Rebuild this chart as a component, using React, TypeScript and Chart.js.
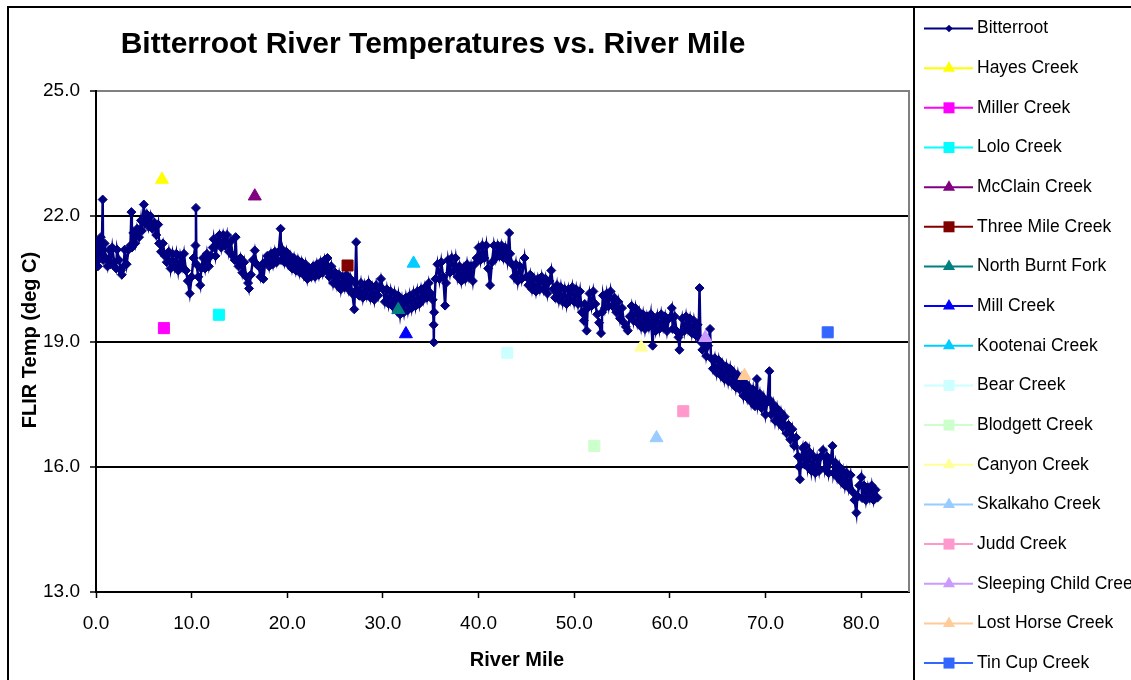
import React, { useEffect, useRef } from 'react';
import { Chart, registerables } from 'chart.js';

Chart.register(...registerables);

const FONT = '"Liberation Sans", Arial, sans-serif';

const chartTitle = 'Bitterroot River Temperatures vs. River Mile';
const xAxisTitle = 'River Mile';
const yAxisTitle = 'FLIR Temp (deg C)';

const xMin = 0;
const xMax = 85;
const xStep = 10;
const yMin = 13;
const yMax = 25;
const yStep = 3;

// Bitterroot main stem: [river mile, FLIR temp]
const bitterroot: [number, number][] = [
  [0.0, 20.9], [0.1, 21.3], [0.2, 20.8], [0.3, 21.4], [0.4, 21.0], [0.5, 21.5], [0.6, 21.1], [0.7, 22.4], [0.75, 20.95], [0.9, 21.35],
  [1.0, 21.0], [1.2, 20.8], [1.4, 21.2], [1.5, 20.85], [1.7, 21.25], [1.9, 20.9], [2.1, 20.75], [2.2, 21.2], [2.4, 20.95], [2.6, 20.7],
  [2.7, 20.6], [2.9, 20.8], [3.0, 21.2], [3.2, 20.85], [3.4, 21.2], [3.6, 21.3], [3.7, 22.1], [3.75, 21.25], [3.9, 21.6], [4.1, 21.35],
  [4.3, 21.7], [4.5, 21.5], [4.7, 21.9], [4.8, 21.65], [5.0, 22.28], [5.1, 21.85], [5.3, 22.05], [5.5, 21.75], [5.7, 22.0], [5.9, 21.7],
  [6.1, 21.85], [6.3, 21.55], [6.5, 21.8], [6.6, 21.35], [6.8, 21.15], [7.0, 21.35], [7.2, 21.05], [7.4, 20.9], [7.6, 21.15], [7.8, 20.75],
  [8.0, 21.1], [8.2, 20.8], [8.4, 21.1], [8.6, 20.7], [8.8, 21.05], [9.0, 20.8], [9.2, 21.1], [9.4, 20.7], [9.6, 20.45], [9.8, 20.15],
  [10.0, 20.55], [10.2, 21.0], [10.4, 21.3], [10.45, 22.2], [10.5, 20.85], [10.7, 20.55], [10.9, 20.35], [11.0, 20.75], [11.2, 21.0], [11.4, 20.75],
  [11.6, 21.1], [11.8, 20.8], [12.0, 21.05], [12.2, 21.25], [12.3, 21.45], [12.5, 21.05], [12.7, 21.35], [12.9, 21.55], [13.1, 21.25], [13.3, 21.55],
  [13.5, 21.3], [13.7, 21.55], [13.9, 21.15], [14.1, 21.4], [14.3, 21.05], [14.5, 20.95], [14.6, 21.5], [14.7, 20.95], [14.9, 20.8], [15.1, 21.0],
  [15.3, 20.65], [15.5, 20.9], [15.7, 20.55], [15.9, 20.4], [16.0, 20.27], [16.2, 20.6], [16.4, 20.95], [16.6, 21.18], [16.8, 20.85], [17.0, 20.8],
  [17.2, 20.55], [17.4, 20.85], [17.5, 20.5], [17.7, 20.9], [17.9, 21.05], [18.1, 20.8], [18.3, 21.1], [18.5, 20.85], [18.7, 21.15], [18.9, 20.9],
  [19.1, 21.15], [19.3, 21.7], [19.35, 20.95], [19.5, 21.2], [19.7, 20.9], [19.9, 21.15], [20.1, 20.85], [20.3, 21.05], [20.5, 20.75], [20.7, 21.0],
  [20.9, 20.7], [21.1, 20.95], [21.3, 20.65], [21.5, 20.9], [21.7, 20.6], [21.9, 20.85], [22.1, 20.5], [22.3, 20.75], [22.5, 20.55], [22.7, 20.8],
  [22.9, 20.55], [23.1, 20.85], [23.3, 20.6], [23.5, 20.9], [23.7, 20.65], [23.9, 20.95], [24.1, 20.7], [24.2, 21.0], [24.4, 20.55], [24.6, 20.8],
  [24.8, 20.4], [25.0, 20.65], [25.2, 20.35], [25.4, 20.6], [25.6, 20.25], [25.8, 20.55], [26.0, 20.3], [26.2, 20.6], [26.4, 20.25], [26.6, 20.5],
  [26.8, 20.15], [27.0, 19.77], [27.1, 20.4], [27.2, 21.38], [27.3, 20.25], [27.5, 20.1], [27.7, 20.4], [27.9, 20.05], [28.1, 20.35], [28.3, 20.1],
  [28.5, 20.4], [28.7, 20.05], [28.9, 20.3], [29.1, 20.0], [29.3, 20.35], [29.5, 20.1], [29.8, 20.5], [30.0, 20.25], [30.2, 19.95], [30.4, 20.25],
  [30.6, 19.9], [30.8, 20.2], [31.0, 19.85], [31.2, 20.15], [31.4, 19.8], [31.6, 20.1], [31.8, 19.65], [32.0, 20.0], [32.2, 19.7], [32.4, 20.05],
  [32.6, 19.75], [32.8, 20.1], [33.0, 19.8], [33.2, 20.15], [33.4, 19.85], [33.6, 20.2], [33.8, 19.9], [34.0, 20.25], [34.2, 20.0], [34.4, 20.3],
  [34.6, 20.05], [34.8, 20.4], [35.0, 20.15], [35.2, 20.0], [35.3, 19.4], [35.32, 18.98], [35.35, 19.7], [35.5, 20.5], [35.7, 20.85], [35.9, 20.5],
  [36.1, 20.9], [36.3, 20.55], [36.5, 19.86], [36.6, 20.4], [36.8, 20.95], [37.0, 20.65], [37.2, 21.0], [37.4, 20.7], [37.6, 21.0], [37.8, 20.55],
  [38.0, 20.8], [38.2, 20.45], [38.4, 20.75], [38.6, 20.5], [38.8, 20.85], [39.0, 20.55], [39.2, 20.8], [39.4, 20.45], [39.6, 20.85], [39.8, 21.0],
  [40.0, 21.25], [40.2, 20.95], [40.4, 21.3], [40.6, 21.0], [40.8, 21.3], [41.0, 20.75], [41.2, 20.35], [41.4, 20.9], [41.6, 21.3], [41.8, 21.0],
  [42.0, 21.3], [42.2, 21.05], [42.4, 21.3], [42.6, 21.0], [42.8, 21.25], [43.0, 20.95], [43.2, 21.6], [43.3, 21.1], [43.5, 20.85], [43.7, 20.55],
  [43.9, 20.85], [44.1, 20.45], [44.3, 20.8], [44.5, 20.5], [44.8, 21.0], [45.0, 20.55], [45.2, 20.35], [45.4, 20.6], [45.6, 20.25], [45.8, 20.5],
  [46.0, 20.2], [46.2, 20.5], [46.4, 20.25], [46.6, 20.55], [46.8, 20.25], [47.0, 20.5], [47.2, 20.15], [47.4, 20.45], [47.6, 20.7], [47.8, 20.25],
  [48.0, 20.05], [48.2, 20.35], [48.4, 20.0], [48.6, 20.3], [48.8, 19.95], [49.0, 20.25], [49.2, 19.9], [49.4, 20.25], [49.6, 20.0], [49.8, 20.3],
  [50.0, 19.95], [50.2, 20.25], [50.4, 19.9], [50.6, 20.2], [50.8, 19.7], [51.0, 19.5], [51.1, 19.9], [51.3, 19.26], [51.4, 19.8], [51.6, 20.15],
  [51.8, 19.85], [52.0, 20.2], [52.2, 19.9], [52.4, 19.65], [52.6, 19.45], [52.8, 19.2], [52.9, 19.7], [53.0, 20.1], [53.2, 19.8], [53.4, 20.15],
  [53.6, 19.85], [53.8, 20.2], [54.0, 19.85], [54.2, 20.05], [54.4, 19.7], [54.6, 19.95], [54.8, 19.55], [55.0, 19.8], [55.2, 19.45], [55.4, 19.35],
  [55.6, 19.26], [55.8, 19.6], [56.0, 19.85], [56.2, 19.5], [56.4, 19.8], [56.6, 19.45], [56.8, 19.7], [57.0, 19.35], [57.2, 19.65], [57.4, 19.3],
  [57.6, 19.6], [57.8, 19.35], [58.0, 19.65], [58.2, 18.9], [58.3, 19.5], [58.5, 19.25], [58.7, 19.6], [58.9, 19.3], [59.1, 19.65], [59.3, 19.35],
  [59.5, 19.6], [59.7, 19.25], [59.9, 19.55], [60.2, 19.8], [60.3, 19.3], [60.5, 19.6], [60.7, 19.25], [60.9, 19.1], [61.0, 18.8], [61.1, 19.2],
  [61.3, 19.55], [61.5, 19.25], [61.7, 19.6], [61.9, 19.3], [62.1, 19.55], [62.3, 19.2], [62.5, 19.5], [62.7, 19.15], [62.9, 19.4], [63.0, 19.1],
  [63.1, 20.28], [63.2, 19.0], [63.4, 18.8], [63.6, 19.05], [63.8, 18.65], [64.0, 18.9], [64.2, 19.3], [64.3, 18.6], [64.5, 18.35], [64.7, 18.6],
  [64.9, 18.25], [65.1, 18.55], [65.3, 18.2], [65.5, 18.45], [65.7, 18.1], [65.9, 18.4], [66.1, 18.05], [66.3, 18.35], [66.5, 18.0], [66.7, 18.25],
  [66.9, 17.9], [67.1, 18.2], [67.3, 17.85], [67.5, 18.1], [67.7, 17.7], [67.9, 18.0], [68.1, 17.65], [68.3, 17.9], [68.5, 17.55], [68.7, 17.85],
  [68.9, 17.45], [69.1, 18.1], [69.2, 17.5], [69.4, 17.75], [69.6, 17.4], [69.8, 17.65], [70.0, 17.25], [70.2, 17.55], [70.4, 18.29], [70.45, 17.6],
  [70.6, 17.25], [70.8, 17.5], [71.0, 17.1], [71.2, 17.4], [71.4, 17.05], [71.6, 17.3], [71.8, 16.95], [72.0, 17.2], [72.2, 16.8], [72.4, 17.0],
  [72.6, 16.65], [72.8, 16.9], [73.0, 16.5], [73.2, 16.7], [73.4, 16.25], [73.5, 16.0], [73.6, 15.7], [73.7, 16.2], [73.9, 16.45], [74.1, 16.05],
  [74.2, 16.5], [74.4, 16.0], [74.6, 16.35], [74.8, 15.9], [75.0, 16.25], [75.2, 15.85], [75.4, 16.2], [75.6, 15.9], [75.8, 16.25], [76.0, 16.4],
  [76.2, 15.95], [76.4, 16.25], [76.6, 15.85], [76.8, 16.15], [77.0, 16.5], [77.1, 15.85], [77.3, 16.1], [77.5, 15.75], [77.7, 16.0], [77.9, 15.65],
  [78.1, 15.9], [78.3, 15.55], [78.5, 15.85], [78.7, 15.5], [78.9, 15.8], [79.1, 15.4], [79.3, 15.2], [79.5, 14.9], [79.6, 15.3], [79.8, 15.55],
  [80.0, 15.75], [80.1, 15.25], [80.3, 15.55], [80.5, 15.2], [80.7, 15.5], [80.9, 15.25], [81.1, 15.55], [81.3, 15.2], [81.5, 15.45], [81.7, 15.26],
];

// Tributaries (one measurement each)
const creekNames = [
  'Hayes Creek', 'Miller Creek', 'Lolo Creek', 'McClain Creek', 'Three Mile Creek', 'North Burnt Fork',
  'Mill Creek', 'Kootenai Creek', 'Bear Creek', 'Blodgett Creek', 'Canyon Creek', 'Skalkaho Creek',
  'Judd Creek', 'Sleeping Child Creek', 'Lost Horse Creek', 'Tin Cup Creek',
];
const creekMiles = [6.9, 7.1, 12.85, 16.6, 26.3, 31.6, 32.4, 33.2, 43.0, 52.1, 57.0, 58.6, 61.4, 63.7, 67.8, 76.5];
const creekTemps = [22.88, 19.32, 19.64, 22.48, 20.82, 19.76, 19.18, 20.87, 18.73, 16.5, 18.86, 16.69, 17.33, 19.09, 18.18, 19.22];
const creekColors = [
  '#FFFF00', '#FF00FF', '#00FFFF', '#800080', '#800000', '#008080',
  '#0000FF', '#00CCFF', '#CCFFFF', '#CCFFCC', '#FFFF99', '#99CCFF',
  '#FF99CC', '#CC99FF', '#FFCC99', '#3366FF',
];
const creekShapes = [
  'triangle', 'rect', 'rect', 'triangle', 'rect', 'triangle',
  'triangle', 'triangle', 'rect', 'rect', 'triangle', 'triangle',
  'rect', 'triangle', 'triangle', 'rect',
];
const mainName = 'Bitterroot';
const mainColor = '#000080';

function drawMarker(ctx: CanvasRenderingContext2D, shape: string, x: number, y: number, color: string) {
  ctx.fillStyle = color;
  ctx.beginPath();
  if (shape === 'triangle') {
    const r = 7;
    ctx.moveTo(x, y - r);
    ctx.lineTo(x + r * 0.866, y + r * 0.5);
    ctx.lineTo(x - r * 0.866, y + r * 0.5);
  } else if (shape === 'rect') {
    const h = 5.5;
    ctx.rect(x - h, y - h, 2 * h, 2 * h);
  } else {
    const r = 3.8;
    ctx.moveTo(x, y - r);
    ctx.lineTo(x + r, y);
    ctx.lineTo(x, y + r);
    ctx.lineTo(x - r, y);
  }
  ctx.closePath();
  ctx.fill();
}

const decorPlugin = {
  id: 'decor',
  afterDraw(chart: any) {
    const ctx: CanvasRenderingContext2D = chart.ctx;
    const { top, right, bottom } = chart.chartArea;
    ctx.save();
    // right border of plot area
    ctx.strokeStyle = '#808080';
    ctx.lineWidth = 2;
    ctx.beginPath();
    ctx.moveTo(right, top - 1);
    ctx.lineTo(right, bottom);
    ctx.stroke();
    // outer frame
    ctx.strokeStyle = '#000';
    ctx.lineWidth = 2;
    ctx.beginPath();
    ctx.moveTo(8, 680);
    ctx.lineTo(8, 7);
    ctx.lineTo(1131, 7);
    ctx.stroke();
    // legend box
    ctx.fillStyle = '#fff';
    ctx.fillRect(915, 8, 216, 672);
    ctx.beginPath();
    ctx.moveTo(914, 7);
    ctx.lineTo(914, 680);
    ctx.stroke();

    // title
    ctx.fillStyle = '#000';
    ctx.font = `bold 30px ${FONT}`;
    ctx.textAlign = 'center';
    ctx.textBaseline = 'middle';
    ctx.fillText(chartTitle, 433, 45);
    // axis titles
    ctx.font = `bold 20px ${FONT}`;
    ctx.fillText(xAxisTitle, 517, 660);
    ctx.save();
    ctx.translate(30, 340);
    ctx.rotate(-Math.PI / 2);
    ctx.fillText(yAxisTitle, 0, 0);
    ctx.restore();

    // legend
    const names = [mainName, ...creekNames];
    const colors = [mainColor, ...creekColors];
    const shapes = ['rectRot', ...creekShapes];
    ctx.font = `17.5px ${FONT}`;
    ctx.textAlign = 'left';
    for (let i = 0; i < names.length; i++) {
      const y = 28.5 + i * 39.66;
      ctx.strokeStyle = colors[i];
      ctx.lineWidth = 2;
      ctx.beginPath();
      ctx.moveTo(924, y);
      ctx.lineTo(973, y);
      ctx.stroke();
      drawMarker(ctx, shapes[i], 949, y, colors[i]);
      ctx.fillStyle = '#000';
      ctx.fillText(names[i], 977, y);
    }
    ctx.restore();
  },
};

export default function App() {
  const canvasRef = useRef<HTMLCanvasElement | null>(null);

  useEffect(() => {
    const canvas = canvasRef.current;
    if (!canvas) return;
    const datasets: any[] = [
      {
        label: mainName,
        data: bitterroot.map(([x, y]) => ({ x, y })),
        showLine: true,
        borderColor: mainColor,
        borderWidth: 2.5,
        backgroundColor: mainColor,
        pointStyle: 'rectRot',
        pointRadius: 4.5,
        pointBackgroundColor: mainColor,
        pointBorderColor: mainColor,
        pointBorderWidth: 1,
        order: 1,
      },
      ...creekNames.map((name, i) => ({
        label: name,
        data: [{ x: creekMiles[i], y: creekTemps[i] }],
        showLine: false,
        pointStyle: creekShapes[i],
        pointRadius: creekShapes[i] === 'triangle' ? 7.5 : 7.8,
        pointBackgroundColor: creekColors[i],
        pointBorderColor: creekColors[i],
        pointBorderWidth: 1,
        backgroundColor: creekColors[i],
        borderColor: creekColors[i],
        order: 0,
      })),
    ];

    const chart = new Chart(canvas, {
      type: 'scatter',
      data: { datasets },
      plugins: [decorPlugin],
      options: {
        responsive: false,
        animation: false,
        events: [],
        layout: { padding: { top: 91, right: 222, left: 0, bottom: 0 } },
        plugins: { legend: { display: false }, tooltip: { enabled: false }, title: { display: false } },
        scales: {
          x: {
            type: 'linear',
            min: xMin,
            max: xMax,
            afterFit: (s: any) => { s.height = 88; },
            ticks: {
              stepSize: xStep,
              includeBounds: false,
              autoSkip: false,
              maxRotation: 0,
              padding: 14,
              color: '#000',
              font: { family: FONT, size: 19 },
              callback: (v: any) => Number(v).toFixed(1),
            },
            grid: { drawOnChartArea: false, drawTicks: true, tickLength: 6, tickColor: '#000', tickWidth: 1.5 },
            border: { color: '#000', width: 2 },
          },
          y: {
            type: 'linear',
            min: yMin,
            max: yMax,
            afterFit: (s: any) => { s.width = 96; },
            ticks: {
              stepSize: yStep,
              autoSkip: false,
              padding: 10,
              color: '#000',
              font: { family: FONT, size: 19 },
              callback: (v: any) => Number(v).toFixed(1),
            },
            grid: {
              color: (c: any) => (c.tick && c.tick.value === yMax ? '#808080' : '#000'),
              lineWidth: 2,
              tickLength: 6,
              tickColor: '#000',
              tickWidth: 1.5,
            },
            border: { color: '#000', width: 2 },
          },
        },
      },
    });
    return () => chart.destroy();
  }, []);

  return (
    <div style={{ position: 'fixed', left: 0, top: 0, width: 1131, height: 680, background: '#fff' }}>
      <canvas ref={canvasRef} width={1131} height={680} style={{ display: 'block' }} />
    </div>
  );
}
